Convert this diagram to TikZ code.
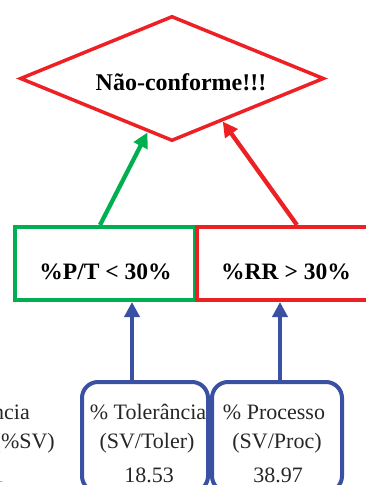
\documentclass[tikz,border=0pt]{standalone}
\usepackage{fontspec}
\setmainfont{Liberation Serif}
\usetikzlibrary{shapes.geometric,arrows.meta,calc}
\definecolor{cred}{HTML}{ED2024}
\definecolor{cgreen}{HTML}{00B050}
\definecolor{cblue}{HTML}{3A50A2}
\definecolor{ccyan}{HTML}{29ABE2}
\begin{document}
\begin{tikzpicture}[x=1pt,y=-1pt,
  tipstyle/.style={-{Triangle[length=15pt,width=15pt]}},
  condbox/.style={draw, line width=4pt, minimum width=180pt, minimum height=73pt, inner sep=0pt},
  databox/.style={draw=cblue, line width=4pt, rounded corners=16pt, minimum height=110pt, inner sep=0pt},
  boldlbl/.style={font=\fontsize{23.5}{26}\selectfont\bfseries, anchor=base, inner sep=0pt},
  datatxt/.style={font=\fontsize{22}{26}\selectfont, anchor=base, inner sep=0pt, text=black!85},
  arrowline/.style={line width=4.3pt, tipstyle}
]
\useasboundingbox (0,0) rectangle (366,485);
\clip (0,0) rectangle (366,485);

% decision diamond
\node[diamond, draw=cred, line width=3.5pt, minimum width=304pt, minimum height=125pt, inner sep=0pt] (dia) at (172,78.5) {};
\node[font=\fontsize{24}{28}\selectfont\bfseries, anchor=base, inner sep=0pt] (diatxt) at (181,90) {Não-conforme!!!};

% condition boxes
\node[condbox, draw=cgreen] (pt) at (105,263.5) {};
\node[boldlbl] (pttxt) at (105.5,279) {\%P/T < 30\%};
\node[condbox, draw=cred] (rr) at (287,263.5) {};
\node[boldlbl] (rrtxt) at (286,279) {\%RR > 30\%};

% data boxes
\node[databox, minimum width=126pt] (tol) at (145,437) {};
\node[datatxt] (tol1) at (148,419) {\% Tolerância};
\node[datatxt] (tol2) at (147,448) {(SV/Toler)};
\node[datatxt] (tol3) at (149,482) {18.53};

\node[databox, minimum width=130pt] (proc) at (277,437) {};
\node[datatxt] (proc1) at (274,419) {\% Processo};
\node[datatxt] (proc2) at (277,448) {(SV/Proc)};
\node[datatxt] (proc3) at (278,482) {38.97};

% partially visible left text
\node[datatxt, anchor=base east] (l1) at (30,419) {ncia};
\node[datatxt, anchor=base east] (l2) at (55,448) {(\%SV)};
\node[datatxt, anchor=base east, text=ccyan] (l3) at (4,482) {1};

% arrows up to the diamond
\draw[arrowline, cgreen] ($(pt.north)+(-5,0)$) -- ($(dia.west)!0.84!(dia.south)$);
\draw[arrowline, cred] ($(rr.north)+(10,0)$) -- ($(dia.east)!0.67!(dia.south)$);

% arrows up to the condition boxes
\coordinate (a1) at ($(tol.north)+(-13,0)$);
\draw[arrowline, cblue] (a1) -- (a1 |- pt.south);
\coordinate (a2) at ($(proc.north)+(3,0)$);
\draw[arrowline, cblue] (a2) -- (a2 |- rr.south);
\end{tikzpicture}
\end{document}
